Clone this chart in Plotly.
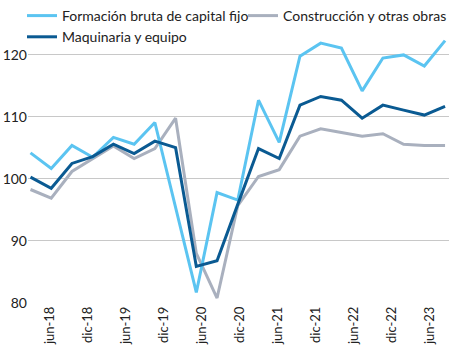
import numpy as np
import plotly.graph_objects as go

quarters = ["mar-18","jun-18","sep-18","dic-18","mar-19","jun-19","sep-19","dic-19",
            "mar-20","jun-20","sep-20","dic-20","mar-21","jun-21","sep-21","dic-21",
            "mar-22","jun-22","sep-22","dic-22","mar-23"]

fbkf = [104.2, 101.7, 105.4, 103.5, 106.7, 105.6, 109.1, 95.5, 81.7, 97.8, 96.6,
        112.7, 105.9, 119.8, 121.9, 121.1, 114.2, 119.5, 120.0, 118.2, 122.3]
construccion = [98.3, 96.9, 101.2, 103.3, 105.3, 103.3, 104.9, 109.8, 88.0, 80.8, 95.7,
                100.4, 101.5, 106.9, 108.1, 107.5, 106.9, 107.3, 105.6, 105.4, 105.4]
maquinaria = [100.3, 98.5, 102.5, 103.6, 105.6, 104.1, 106.1, 105.05, 85.9, 86.8, 95.9,
              104.9, 103.3, 111.9, 113.3, 112.7, 109.8, 111.9, 111.1, 110.3, 111.7]

tick_labels = ["jun-18","dic-18","jun-19","dic-19","jun-20","dic-20",
               "jun-21","dic-21","jun-22","dic-22","jun-23"]
y_ticks = [80, 90, 100, 110, 120]

x = list(range(len(quarters)))
tickvals = list(np.linspace(0.94, 19.25, len(tick_labels)))

FONT = "Lato"
fig = go.Figure()
# drawing order: grey, light blue, dark blue
series = [
    ("Construcción y otras obras", construccion, "#A9B0BE", "legend2", 1),
    ("Formación bruta de capital fijo", fbkf, "#5BC4F1", "legend", 1),
    ("Maquinaria y equipo", maquinaria, "#0A5A92", "legend", 2),
]
for name, vals, col, lg, rank in series:
    fig.add_trace(go.Scatter(x=x, y=vals, name=name, mode="lines",
                             line=dict(color=col, width=3),
                             legend=lg, legendrank=rank,
                             customdata=quarters,
                             hovertemplate="%{customdata}: %{y}<extra>" + name + "</extra>"))

leg_common = dict(orientation="v", xref="container", yref="container",
                  xanchor="left", yanchor="top", itemwidth=30,
                  bgcolor="rgba(0,0,0,0)", font=dict(size=14, color="#222222"),
                  tracegroupgap=0, borderwidth=0)
fig.update_layout(
    width=449, height=354,
    margin=dict(l=28, r=0, t=27, b=51, autoexpand=False),
    paper_bgcolor="white", plot_bgcolor="white",
    font=dict(family=FONT, size=14, color="#222222"),
    showlegend=True,
    legend=dict(x=22/449, y=1.024, **leg_common),
    legend2=dict(x=243/449, y=1.024, **leg_common),
)
fig.update_xaxes(range=[-0.12, 20.19], tickmode="array", tickvals=tickvals,
                 ticktext=tick_labels, tickangle=-90, showgrid=False,
                 zeroline=False, showline=False, ticks="",
                 tickfont=dict(size=13), automargin=False)
fig.update_yaxes(range=[80, 124.5], tickmode="array", tickvals=y_ticks,
                 showgrid=True, gridcolor="#C8C8C8", gridwidth=1,
                 zeroline=False, showline=False, ticks="",
                 tickfont=dict(size=14), automargin=False)
fig.write_html("out.html")
